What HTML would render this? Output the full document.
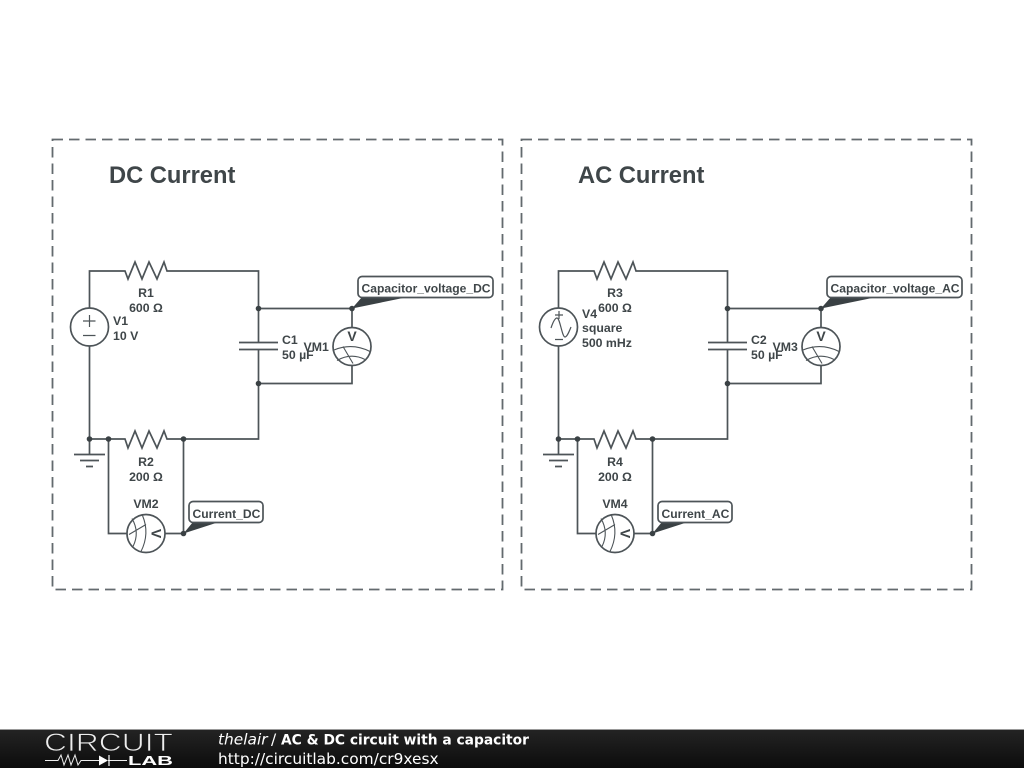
<!DOCTYPE html>
<html><head><meta charset="utf-8"><style>
html,body{margin:0;padding:0;background:#fff;width:1024px;height:768px;overflow:hidden}
svg{display:block}
.w{fill:none;stroke:#4d5458;stroke-width:1.7}
.l{font:bold 12.3px "Liberation Sans",sans-serif;fill:#3f4649}
.m{text-anchor:middle}
.t{font:bold 23.7px "Liberation Sans",sans-serif;fill:#3f4649}
.c{font:bold 12.1px "Liberation Sans",sans-serif;fill:#3f4649}
.f{font:15.4px "DejaVu Sans",sans-serif;fill:#fff}
.fi{font:italic 15.4px "DejaVu Sans",sans-serif;fill:#fff}
.fb{font:bold 13.8px "DejaVu Sans",sans-serif;fill:#fff}
.d{fill:#3a4144}
</style></head><body>
<svg width="1024" height="768" viewBox="0 0 1024 768" xmlns="http://www.w3.org/2000/svg">
<defs>
<linearGradient id="g" x1="0" y1="0" x2="0" y2="1"><stop offset="0" stop-color="#242424"/><stop offset="1" stop-color="#0c0c0c"/></linearGradient>
<g id="meter">
<circle cx="0" cy="0" r="19" fill="#fff" stroke="#4d5458" stroke-width="1.7"/>
<path d="M-18,3.5Q0,-4 18,5M-15,14Q-1,6 13,13M-9,0L1,17" fill="none" stroke="#4d5458" stroke-width="1.1"/>
<text x="0" y="-5.500" text-anchor="middle" style="font:bold 14px 'Liberation Sans',sans-serif;fill:#3f4649">V</text>
</g>
<g id="common">
<path class="w" d="M89.5,308V271H125L128,279L135,262L142,279L149,262L157,279L164,262L167,271H258.5V342M239,342.5H278M239,349.5H278M258.5,349.5V439H167L164,431L157,448L149,431L142,448L135,431L128,448L125,439H89.5V346"/>
<path class="w" d="M258.5,308.5H352V327M352,366V383.5H258.5M108.5,439V533.5H127M165,533.5H183.5V439M89.5,439V454.5M74,454.5H105M80,460.5H99M86,466.5H93"/>
<circle class="d" cx="258.5" cy="308.5" r="2.8"/><circle class="d" cx="258.5" cy="383.5" r="2.8"/>
<circle class="d" cx="89.5" cy="439" r="2.8"/><circle class="d" cx="108.5" cy="439" r="2.8"/><circle class="d" cx="183.5" cy="439" r="2.8"/>
<circle class="d" cx="352" cy="308.5" r="2.8"/><circle class="d" cx="183.5" cy="533.5" r="2.8"/>
<path class="d" d="M352,308.5L362,297H408Z"/><path class="d" d="M183.5,533.5L193,522H219Z"/>
<use href="#meter" transform="translate(352,346.5)"/>
<use href="#meter" transform="translate(146,533.5) rotate(90)"/>
<circle cx="89.5" cy="327" r="19" fill="#fff" stroke="#4d5458" stroke-width="1.7"/>
</g>
</defs>
<rect width="1024" height="768" fill="#fff"/>
<rect x="52.5" y="139.5" width="450" height="450" fill="none" stroke="#636a6e" stroke-width="1.8" stroke-dasharray="10.5 6"/>
<rect x="521.5" y="139.5" width="450" height="450" fill="none" stroke="#636a6e" stroke-width="1.8" stroke-dasharray="10.5 6"/>

<use href="#common"/>
<use href="#common" x="469"/>

<path class="w" style="stroke-width:1.2" d="M83,321H95.5M89.5,315V327M83,335.5H95.5"/>
<path class="w" style="stroke-width:1.2" d="M551,328C553,322 555,318 557,318C560,318 562,337 565,337C567,337 569,332 571,327M555,315H563M559,311V319M555,339.500H563"/>

<rect x="358" y="276.500" width="135" height="21" rx="4" fill="#fff" stroke="#4d5458" stroke-width="1.7"/>
<rect x="189" y="501.500" width="74" height="21" rx="4" fill="#fff" stroke="#4d5458" stroke-width="1.7"/>
<rect x="827" y="276.500" width="135" height="21" rx="4" fill="#fff" stroke="#4d5458" stroke-width="1.7"/>
<rect x="658" y="501.500" width="74" height="21" rx="4" fill="#fff" stroke="#4d5458" stroke-width="1.7"/>

<text class="t" x="109" y="183">DC Current</text>
<text class="t" x="578" y="183">AC Current</text>

<text class="c" x="361.500" y="292.500">Capacitor_voltage_DC</text>
<text class="c" x="192.500" y="518">Current_DC</text>
<text class="c" x="830.500" y="292.500">Capacitor_voltage_AC</text>
<text class="c" x="661.500" y="518">Current_AC</text>

<text class="l m" x="146" y="297">R1</text><text class="l m" x="146" y="312">600 Ω</text>
<text class="l" x="113" y="325">V1</text><text class="l" x="113" y="340">10 V</text>
<text class="l" x="282" y="344">C1</text><text class="l" x="282" y="359">50 µF</text>
<text class="l" x="303.500" y="351">VM1</text>
<text class="l m" x="146" y="466">R2</text><text class="l m" x="146" y="481">200 Ω</text>
<text class="l m" x="146" y="508">VM2</text>

<text class="l m" x="615" y="297">R3</text><text class="l m" x="615" y="312">600 Ω</text>
<text class="l" x="582" y="318">V4</text><text class="l" x="582" y="332">square</text><text class="l" x="582" y="347">500 mHz</text>
<text class="l" x="751" y="344">C2</text><text class="l" x="751" y="359">50 µF</text>
<text class="l" x="772.500" y="351">VM3</text>
<text class="l m" x="615" y="466">R4</text><text class="l m" x="615" y="481">200 Ω</text>
<text class="l m" x="615" y="508">VM4</text>

<rect x="0" y="729" width="1024" height="39" fill="url(#g)"/>
<rect x="0" y="729" width="1024" height="1" fill="#999"/>
<text x="44" y="751" textLength="129" lengthAdjust="spacingAndGlyphs" style="font:25px 'Liberation Sans',sans-serif;fill:#eee;stroke:#1c1c1c;stroke-width:.8">CIRCUIT</text>
<path d="M45,760.500H58L61,755L64,765L68,755L71,765L75,755L78,765L81,760.500H100M108,760.500H127" fill="none" stroke="#eee" stroke-width="1"/>
<path d="M99,755.500L108,760.500L99,765.500Z" fill="#fff"/><path d="M109,755V766" stroke="#fff" stroke-width="1.2"/>
<text x="128" y="765" textLength="45" lengthAdjust="spacingAndGlyphs" style="font:bold 13px 'Liberation Sans',sans-serif;fill:#fff">LAB</text>
<text class="fi" x="218" y="744.500">thelair</text>
<text class="f" x="271" y="744.500">/</text>
<text class="fb" x="281" y="744.500">AC &amp; DC circuit with a capacitor</text>
<text class="f" x="218" y="764">http://circuitlab.com/cr9xesx</text>
</svg>
</body></html>
